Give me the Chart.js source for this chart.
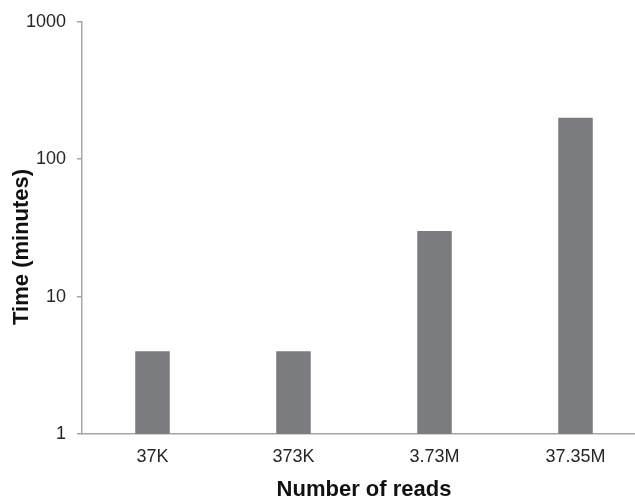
<!DOCTYPE html>
<html>
<head>
<meta charset="utf-8">
<script src="https://cdn.jsdelivr.net/npm/chart.js@4"></script>
<style>
  body { margin: 0; background: #fff; overflow: hidden; }
  #wrap { width: 646px; height: 500px; }
</style>
</head>
<body>
<div id="wrap"><canvas id="chart"></canvas></div>
<script>
let labels = ["37K", "373K", "3.73M", "37.35M"];
let times = [4, 4, 30, 200];
let yTicks = [1, 10, 100, 1000];
let yTitle = "Time (minutes)";

let axisColor = "#a6a6a6";
let textColor = "#262626";
let titleFont = "bold 22px 'Liberation Sans', Arial";

// the y title sits a bit below the middle of the axis in the original
let yTitlePlugin = {
  id: "yTitle",
  afterDraw(chart) {
    let ctx = chart.ctx;
    let area = chart.chartArea;
    ctx.save();
    ctx.translate(22, (area.top + area.bottom) / 2 + 19);
    ctx.rotate(-Math.PI / 2);
    ctx.font = titleFont;
    ctx.fillStyle = "#111";
    ctx.textAlign = "center";
    ctx.textBaseline = "middle";
    ctx.fillText(yTitle, 0, 0);
    ctx.restore();
  },
};

new Chart(document.getElementById("chart"), {
  type: "bar",
  data: {
    labels: labels,
    datasets: [
      {
        label: yTitle,
        data: times,
        backgroundColor: "#7b7c80",
        borderWidth: 0,
        categoryPercentage: 1,
        barPercentage: 0.245,
      },
    ],
  },
  options: {
    responsive: true,
    maintainAspectRatio: false,
    animation: false,
    layout: { padding: { top: 21, right: 0, left: 0, bottom: 0 } },
    plugins: {
      legend: { display: false },
      tooltip: { enabled: false },
    },
    scales: {
      x: {
        grid: { display: false, drawTicks: false },
        border: { display: true, color: axisColor, width: 1.5 },
        ticks: {
          color: textColor,
          padding: 12,
          font: { family: "Liberation Sans, Arial", size: 18 },
        },
        title: {
          display: true,
          text: "Number of reads",
          color: "#111",
          padding: { top: 0, bottom: -3 },
          font: { family: "Liberation Sans, Arial", size: 22, weight: "bold" },
        },
        afterFit: (scale) => {
          scale.height = 66;
        },
      },
      y: {
        type: "logarithmic",
        min: 1,
        max: 1000,
        grid: {
          drawOnChartArea: false,
          drawTicks: true,
          tickLength: 5,
          color: axisColor,
          lineWidth: 1.5,
        },
        border: { display: true, color: axisColor, width: 1.5 },
        ticks: {
          color: textColor,
          padding: 11,
          font: { family: "Liberation Sans, Arial", size: 18 },
          callback: (v) => String(v),
        },
        afterBuildTicks: (scale) => {
          scale.ticks = yTicks.map((v) => ({ value: v }));
        },
        afterFit: (scale) => {
          scale.width = 82;
        },
      },
    },
  },
  plugins: [yTitlePlugin],
});
</script>
</body>
</html>
